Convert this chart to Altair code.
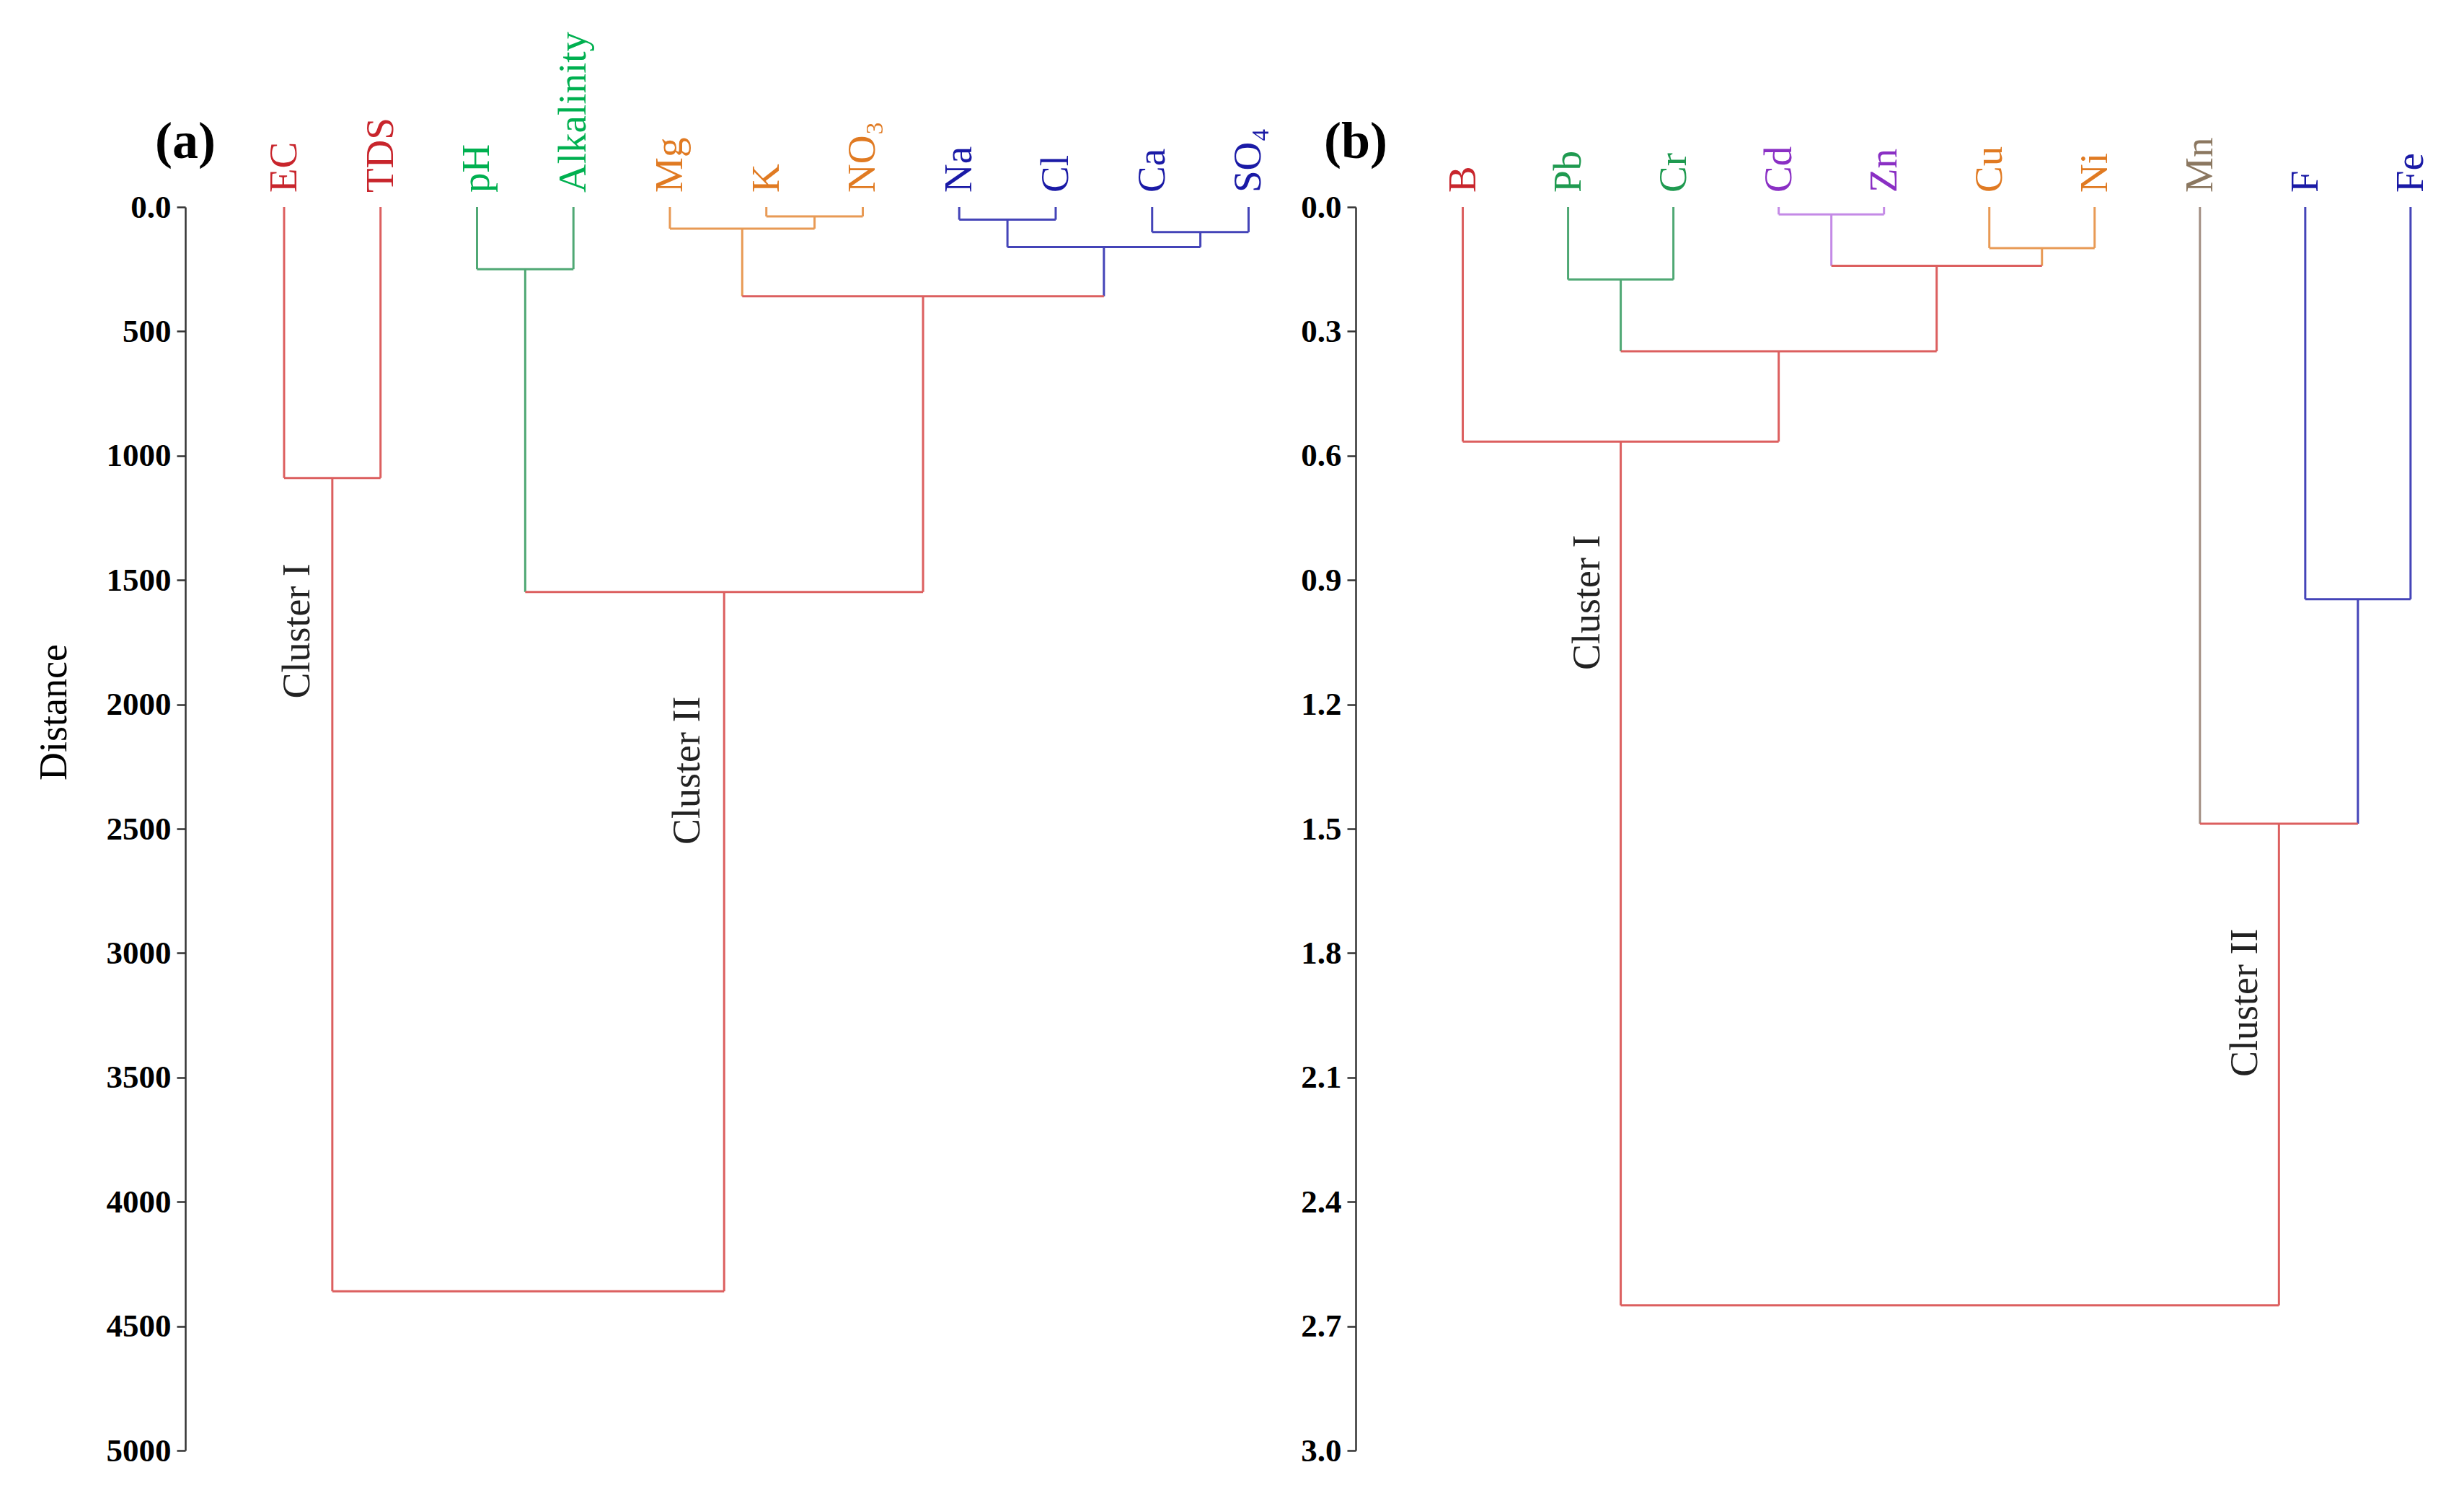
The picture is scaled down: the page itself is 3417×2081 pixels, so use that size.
import altair as alt
import pandas as pd

FONT = "Liberation Serif"

# ---------------- colours ----------------
RED_L, GREEN_L, ORANGE_L, BLUE_L, PURPLE_L, BROWN_L = (
    "#dc5f5f", "#4fa874", "#e89a55", "#4444b8", "#c48ae6", "#a38f84")
RED_T, GREENA_T, GREENB_T, ORANGE_T, BLUE_T, PURPLE_T, BROWN_T = (
    "#c8252c", "#00b050", "#1f9a50", "#e07a22", "#1a1aa6", "#8a2fc4", "#8b7760")

# ---------------- panel (a) data ----------------
a_leaves = ["EC", "TDS", "pH", "Alkalinity", "Mg", "K", "NO₃", "Na", "Cl", "Ca", "SO₄"]
a_leaf_text_color = [RED_T, RED_T, GREENA_T, GREENA_T, ORANGE_T, ORANGE_T, ORANGE_T,
                     BLUE_T, BLUE_T, BLUE_T, BLUE_T]
a_leaf_line_color = [RED_L, RED_L, GREEN_L, GREEN_L, ORANGE_L, ORANGE_L, ORANGE_L,
                     BLUE_L, BLUE_L, BLUE_L, BLUE_L]
a_merge_id = ["a1", "a2", "a3", "a4", "a5", "a6", "a7", "a8", "a9", "a10"]
a_merge_left = ["K", "Mg", "Na", "Ca", "a3", "a2", "pH", "a7", "EC", "a9"]
a_merge_right = ["NO₃", "a1", "Cl", "SO₄", "a4", "a5", "Alkalinity", "a6", "TDS", "a8"]
a_merge_height = [38, 87, 51, 101, 161, 359, 250, 1548, 1090, 4360]
a_merge_color = [ORANGE_L, ORANGE_L, BLUE_L, BLUE_L, BLUE_L, RED_L, GREEN_L, RED_L, RED_L, RED_L]
a_cluster_text = ["Cluster I", "Cluster II"]
a_cluster_x = [0.14, 4.19]
a_cluster_y = [1705, 2266]
a_ticks = [0, 500, 1000, 1500, 2000, 2500, 3000, 3500, 4000, 4500, 5000]

# ---------------- panel (b) data ----------------
b_leaves = ["B", "Pb", "Cr", "Cd", "Zn", "Cu", "Ni", "Mn", "F", "Fe"]
b_leaf_text_color = [RED_T, GREENB_T, GREENB_T, PURPLE_T, PURPLE_T, ORANGE_T, ORANGE_T,
                     BROWN_T, BLUE_T, BLUE_T]
b_leaf_line_color = [RED_L, GREEN_L, GREEN_L, PURPLE_L, PURPLE_L, ORANGE_L, ORANGE_L,
                     BROWN_L, BLUE_L, BLUE_L]
b_merge_id = ["b1", "b2", "b3", "b4", "b5", "b6", "b7", "b8", "b9"]
b_merge_left = ["Cd", "Cu", "b1", "Pb", "b4", "B", "F", "Mn", "b6"]
b_merge_right = ["Zn", "Ni", "b2", "Cr", "b3", "b5", "Fe", "b7", "b8"]
b_merge_height = [0.018, 0.099, 0.142, 0.175, 0.348, 0.566, 0.946, 1.488, 2.65]
b_merge_color = [PURPLE_L, ORANGE_L, RED_L, GREEN_L, RED_L, RED_L, BLUE_L, RED_L, RED_L]
b_cluster_text = ["Cluster I", "Cluster II"]
b_cluster_x = [1.19, 7.43]
b_cluster_y = [0.954, 1.92]
b_ticks = [0.0, 0.3, 0.6, 0.9, 1.2, 1.5, 1.8, 2.1, 2.4, 2.7, 3.0]


def segments(leaves, line_colors, ids, lefts, rights, heights, colors):
    pos = {name: (i, 0.0, c) for i, (name, c) in enumerate(zip(leaves, line_colors))}
    rows = []
    for mid, l, r, h, c in zip(ids, lefts, rights, heights, colors):
        xl, hl, cl = pos[l]
        xr, hr, cr = pos[r]
        rows.append(dict(x=xl, x2=xl, y=hl, y2=h, color=cl))
        rows.append(dict(x=xr, x2=xr, y=hr, y2=h, color=cr))
        rows.append(dict(x=xl, x2=xr, y=h, y2=h, color=c))
        pos[mid] = ((xl + xr) / 2.0, h, c)
    return pd.DataFrame(rows)


def panel(letter, leaves, text_colors, line_colors, ids, lefts, rights, heights, colors,
          cl_text, cl_x, cl_y, ticks, xdom, ydom, label_expr, title, w, h):
    seg = segments(leaves, line_colors, ids, lefts, rights, heights, colors)
    xs = alt.Scale(domain=xdom, nice=False, zero=False)
    ys = alt.Scale(domain=ydom, reverse=True, nice=False, zero=False)
    axis_kw = dict(values=ticks, labelExpr=label_expr, labelFont=FONT,
                   labelFontWeight="bold", labelFontSize=45, labelColor="black",
                   tickSize=12, tickColor="#333333", tickWidth=2.5,
                   domainColor="#333333", domainWidth=2.5, labelPadding=8,
                   grid=False, labelOverlap=False)
    if title:
        axis_kw.update(title=title, titleFont=FONT, titleFontSize=54,
                       titleFontWeight="normal", titleColor="black", titlePadding=45,
                       titleY=700)
    else:
        axis_kw.update(title=None)
    rules = alt.Chart(seg).mark_rule(strokeWidth=3).encode(
        x=alt.X("x:Q", scale=xs, axis=None),
        x2="x2:Q",
        y=alt.Y("y:Q", scale=ys, axis=alt.Axis(**axis_kw)),
        y2="y2:Q",
        color=alt.Color("color:N", scale=None),
    )
    lab_df = pd.DataFrame({"x": list(range(len(leaves))), "y": [0] * len(leaves),
                           "label": leaves, "color": text_colors})
    labels = alt.Chart(lab_df).mark_text(
        angle=270, align="left", baseline="middle", dx=20, font=FONT, fontSize=55
    ).encode(
        x=alt.X("x:Q", scale=xs, axis=None),
        y=alt.Y("y:Q", scale=ys),
        text="label:N",
        color=alt.Color("color:N", scale=None),
    )
    cl_df = pd.DataFrame({"x": cl_x, "y": cl_y, "label": cl_text})
    clusters = alt.Chart(cl_df).mark_text(
        angle=270, align="center", baseline="middle", font=FONT, fontSize=54, color="#222222"
    ).encode(
        x=alt.X("x:Q", scale=xs, axis=None),
        y=alt.Y("y:Q", scale=ys),
        text="label:N",
    )
    let_df = pd.DataFrame({"t": [letter]})
    letter_mark = alt.Chart(let_df).mark_text(
        align="center", baseline="middle", font=FONT, fontSize=72, fontWeight="bold",
        color="black", dy=-90
    ).encode(x=alt.value(0), y=alt.value(0), text="t:N")
    return alt.layer(rules, labels, clusters, letter_mark).properties(width=w, height=h)


pa = panel("(a)", a_leaves, a_leaf_text_color, a_leaf_line_color, a_merge_id, a_merge_left,
           a_merge_right, a_merge_height, a_merge_color, a_cluster_text, a_cluster_x,
           a_cluster_y, a_ticks, [-1.024, 10.4], [0, 5000],
           "datum.value == 0 ? '0.0' : format(datum.value, 'd')", "Distance", 1528, 1724)
pb = panel("(b)", b_leaves, b_leaf_text_color, b_leaf_line_color, b_merge_id, b_merge_left,
           b_merge_right, b_merge_height, b_merge_color, b_cluster_text, b_cluster_x,
           b_cluster_y, b_ticks, [-1.017, 9.35], [0, 3.0],
           "format(datum.value, '.1f')", None, 1514, 1724)

chart = alt.hconcat(pa, pb, spacing=95, bounds="flush").configure_view(
    strokeWidth=0
).properties(padding={"left": 40, "top": 35, "right": 5, "bottom": 5},
             background="white")

chart.save("out.html", embed_options={"renderer": "svg", "actions": False})
